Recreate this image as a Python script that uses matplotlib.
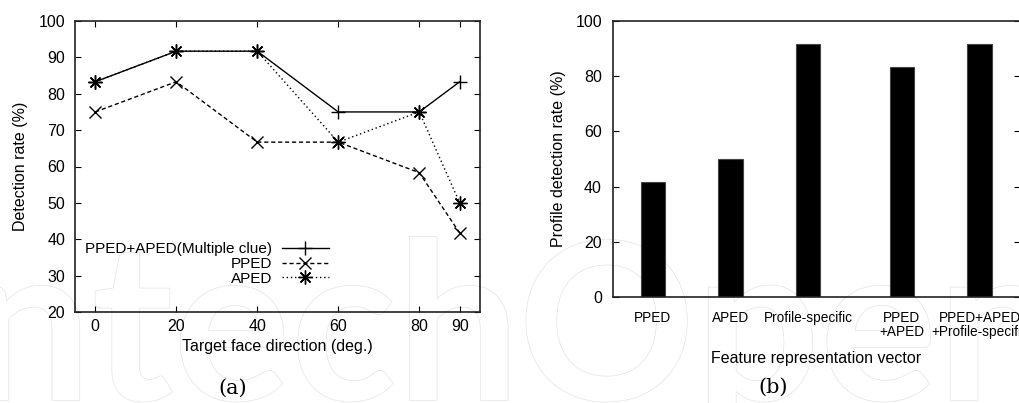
import numpy as np
import matplotlib
matplotlib.use("Agg")
import matplotlib.pyplot as plt
import matplotlib.patheffects as pe

plt.rcParams['font.family'] = ['Liberation Sans', 'DejaVu Sans']
plt.rcParams['font.size'] = 11.5

# (a) detection rate against face direction
directions = [0, 20, 40, 60, 80, 90]
multi_clue = [83.3, 91.7, 91.7, 75.0, 75.0, 83.3]
pped = [75.0, 83.3, 66.7, 66.7, 58.3, 41.7]
aped = [83.3, 91.7, 91.7, 66.7, 75.0, 50.0]

# (b) profile detection rate per feature vector
features = ['PPED', 'APED', 'Profile-specific', 'PPED\n+APED', 'PPED+APED\n+Profile-specific']
feature_pos = [1, 2, 3, 4.2, 5.2]
profile_rate = [41.7, 50.0, 91.7, 83.3, 91.7]

W, H = 1019, 403
fig = plt.figure(figsize=(W / 100, H / 100), dpi=100)

# faint publisher logo behind everything
logo_fx = [pe.Stroke(linewidth=1.0, foreground='#e4e4e4'), pe.Normal()]
fig.text(520 / W, 1 - 400 / H, 'Intech', ha='right', va='baseline', fontsize=158,
         family='Lato', weight='bold', color='white', path_effects=logo_fx, zorder=-5)
fig.text(518 / W, 1 - 400 / H, 'Open', ha='left', va='baseline', fontsize=158,
         family='Lato', weight='bold', color='white', path_effects=logo_fx, zorder=-5)

ax1 = fig.add_axes([75 / W, 1 - 312 / H, 405 / W, 291 / H])
ax1.patch.set_alpha(0)
ax1.plot(directions, multi_clue, color='black', lw=1, ls='-', marker='+', ms=10,
         mew=1, label='PPED+APED(Multiple clue)')
ax1.plot(directions, pped, color='black', lw=1, ls=(0, (3, 2)), marker='x', ms=8,
         mew=1, label='PPED')
ax1.plot(directions, aped, color='black', lw=1, ls=(0, (1, 2)), marker=(8, 2, 0), ms=10,
         mew=1, label='APED')
ax1.set_xlim(-5, 95)
ax1.set_ylim(20, 100)
ax1.set_xticks(directions)
ax1.set_yticks(np.arange(20, 101, 10))
ax1.tick_params(direction='in', top=True, right=True, length=4.5, width=0.8)
ax1.tick_params(axis='x', pad=5)
ax1.tick_params(axis='y', pad=7)
ax1.set_xlabel('Target face direction (deg.)', labelpad=4)
ax1.set_ylabel('Detection rate (%)', labelpad=8)
ax1.legend(loc='center right', bbox_to_anchor=((329 - 75) / 405, 0.165), frameon=False,
           markerfirst=False, handlelength=3.1, handletextpad=0.6, labelspacing=0.05,
           borderpad=0, borderaxespad=0, fontsize=11)

ax2 = fig.add_axes([613 / W, 1 - 297 / H, 407 / W, 276 / H])
ax2.patch.set_alpha(0)
ax2.bar(feature_pos, profile_rate, width=0.31, color='black', edgecolor='#444444', lw=0.8)
ax2.set_xlim(0.49, 5.72)
ax2.set_ylim(0, 100)
ax2.set_xticks(feature_pos)
ax2.set_xticklabels(features, fontsize=9.8, linespacing=1.05)
ax2.set_yticks(np.arange(0, 101, 20))
ax2.tick_params(axis='x', length=0, pad=10)
ax2.tick_params(axis='y', direction='in', right=True, length=4.5, width=0.8, pad=8)
ax2.set_xlabel('Feature representation vector', labelpad=8)
ax2.set_ylabel('Profile detection rate (%)', labelpad=7)

for ax in (ax1, ax2):
    for s in ax.spines.values():
        s.set_linewidth(1.2)
        s.set_color('#222222')

fig.text(233 / W, 1 - 388 / H, '(a)', ha='center', va='center', fontsize=15, family='DejaVu Serif')
fig.text(773 / W, 1 - 387 / H, '(b)', ha='center', va='center', fontsize=15, family='DejaVu Serif')

fig.savefig('out.png', dpi=100)
